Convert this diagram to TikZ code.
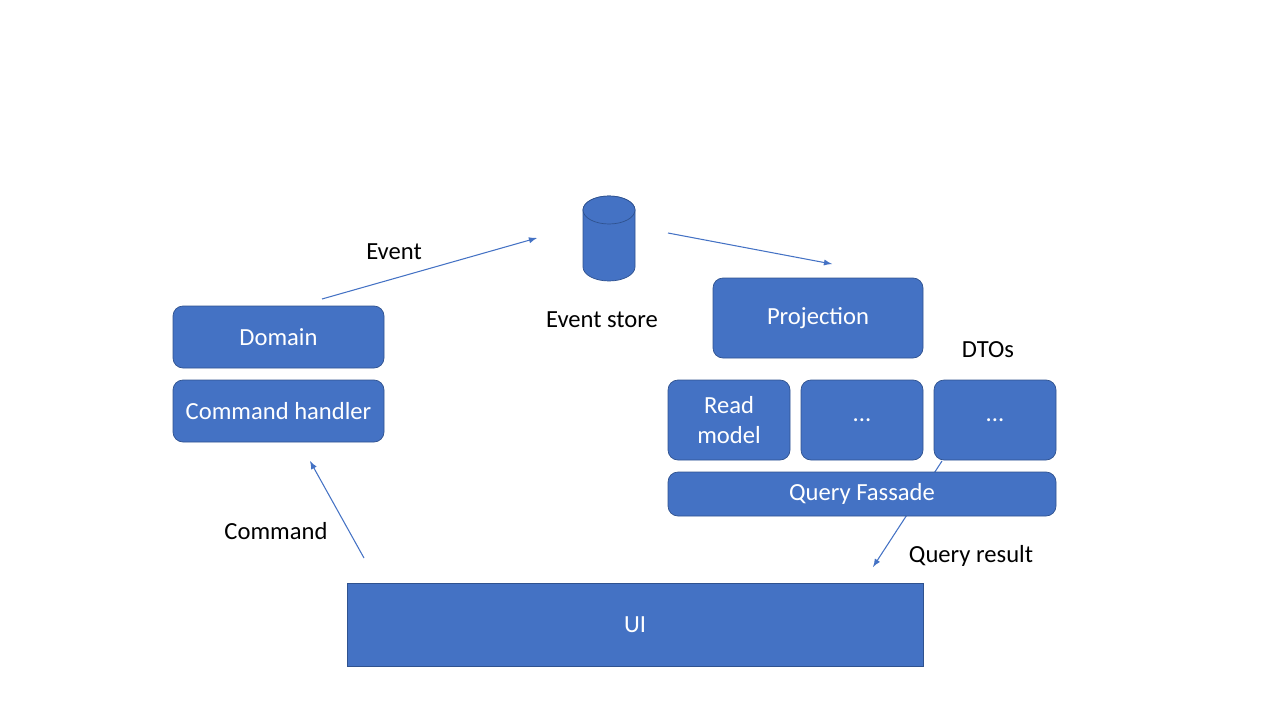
\documentclass[tikz,border=0pt]{standalone}
\usepackage{fontspec}
\setmainfont{Carlito}
\usetikzlibrary{shapes,arrows,positioning}
\definecolor{boxblue}{HTML}{4472C4}
\definecolor{boxedge}{HTML}{2F528F}

\begin{document}
\begin{tikzpicture}[
    box/.style={draw=boxedge, fill=boxblue, text=white, rounded corners=0.2cm, inner sep=0pt, align=center, font=\fontsize{14}{17}\selectfont},
    lbl/.style={text=black, font=\fontsize{14}{17}\selectfont},
    flow/.style={->, boxblue, line width=0.6pt, >=latex}
]
\useasboundingbox (0,0) rectangle (25.6,-14.4);

% free ends of the arrows
\coordinate (ev-a) at (6.44,-5.98);
\coordinate (ev-b) at (10.74,-4.76);
\coordinate (pr-a) at (13.36,-4.66);
\coordinate (pr-b) at (16.64,-5.28);
\coordinate (cm-a) at (7.28,-11.16);
\coordinate (cm-b) at (6.20,-9.22);
\coordinate (qr-a) at (18.84,-9.22);
\coordinate (qr-b) at (17.46,-11.34);

% behind the query box
\draw[flow] (qr-a) -- (qr-b);

\node[box, minimum width=4.22cm, minimum height=1.24cm] (domain) at (5.57,-6.74) {Domain};
\node[box, minimum width=4.22cm, minimum height=1.24cm] (handler) at (5.57,-8.22) {Command handler};

% event store drum
\node[inner sep=0pt, minimum width=1.04cm, minimum height=1.7cm] (store) at (12.18,-4.77) {};
\draw[draw=boxedge, fill=boxblue] (11.66,-4.20) -- (11.66,-5.34) arc (180:360:0.52 and 0.28) -- (12.70,-4.20) arc (0:180:0.52 and 0.28) -- cycle;
\draw[draw=boxedge, fill=boxblue] (12.18,-4.20) ellipse (0.52 and 0.28);

\node[box, minimum width=4.2cm, minimum height=1.6cm] (projection) at (16.36,-6.36) {Projection};
\node[box, minimum width=2.44cm, minimum height=1.6cm] (readmodel) at (14.58,-8.40) {Read\\model};
\node[box, minimum width=2.44cm, minimum height=1.6cm] (dto1) at (17.24,-8.40) {...};
\node[box, minimum width=2.44cm, minimum height=1.6cm] (dto2) at (19.90,-8.40) {...};
\node[box, minimum width=7.76cm, minimum height=0.88cm] (fassade) at (17.24,-9.88) {Query Fassade};

\node[box, rounded corners=0pt, minimum width=11.52cm, minimum height=1.66cm] (ui) at (12.70,-12.49) {UI};

\node[lbl] (event) at (7.88,-5.04) {Event};
\node[lbl] (storelbl) at (12.04,-6.40) {Event store};
\node[lbl] (dtos) at (19.76,-7.00) {DTOs};
\node[lbl] (command) at (5.52,-10.62) {Command};
\node[lbl] (result) at (19.42,-11.12) {Query result};

\draw[flow] (ev-a) -- (ev-b);
\draw[flow] (pr-a) -- (pr-b);
\draw[flow] (cm-a) -- (cm-b);
\end{tikzpicture}
\end{document}
